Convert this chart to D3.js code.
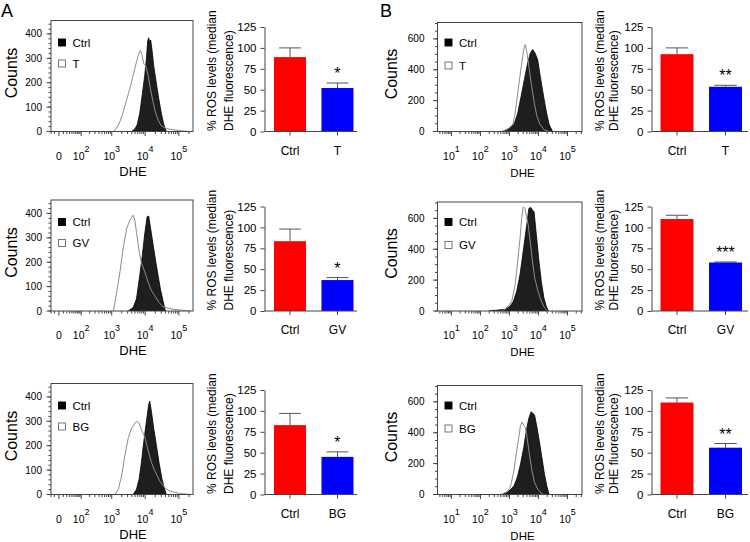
<!DOCTYPE html>
<html><head><meta charset="utf-8">
<script src="https://cdn.jsdelivr.net/npm/d3@7"></script>
<style>body{margin:0;background:#fff}svg{display:block}</style>
</head><body><svg id="c" width="750" height="542"></svg>
<script>
// ---------- DATA ----------
const treatNames = ["T", "GV", "BG"];
const ctrlName = "Ctrl";
// histograms: [log10(DHE), counts]
const histA1Ctrl = [[3.594,0],[3.693,10],[3.762,27],[3.841,75],[3.919,156],[3.988,230],[4.038,298],[4.077,373],[4.106,384],[4.136,366],[4.165,375],[4.205,332],[4.254,271],[4.333,197],[4.411,129],[4.480,75],[4.549,31],[4.628,0]];
const histA1Trt = [[3.052,0],[3.151,14],[3.250,41],[3.348,81],[3.447,129],[3.545,176],[3.643,230],[3.742,285],[3.811,319],[3.860,332],[3.909,312],[3.959,278],[4.018,271],[4.087,230],[4.156,176],[4.234,122],[4.313,75],[4.392,45],[4.480,23],[4.628,12],[4.825,7],[5.071,3],[5.318,0]];
const histA2Ctrl = [[3.496,0],[3.643,14],[3.742,49],[3.841,147],[3.919,232],[3.988,316],[4.057,386],[4.106,389],[4.156,344],[4.234,274],[4.313,204],[4.382,147],[4.451,91],[4.530,42],[4.599,0]];
const histA2Trt = [[3.052,0],[3.151,77],[3.250,161],[3.348,260],[3.447,337],[3.545,372],[3.643,393],[3.693,372],[3.742,323],[3.821,246],[3.890,196],[3.988,161],[4.087,119],[4.185,84],[4.283,63],[4.411,35],[4.530,17],[4.825,7],[5.318,0]];
const histA3Ctrl = [[3.643,0],[3.742,21],[3.821,63],[3.890,132],[3.959,216],[4.038,300],[4.106,369],[4.136,383],[4.185,342],[4.254,272],[4.333,202],[4.411,132],[4.500,63],[4.579,21],[4.628,0]];
const histA3Trt = [[3.102,0],[3.200,21],[3.299,77],[3.397,160],[3.496,230],[3.594,272],[3.742,300],[3.821,293],[3.890,265],[3.988,237],[4.087,181],[4.185,132],[4.283,98],[4.431,56],[4.579,28],[4.727,14],[5.022,4],[5.367,0]];
const histB1Ctrl = [[2.771,0],[3.000,22],[3.171,54],[3.286,119],[3.400,227],[3.514,336],[3.628,444],[3.720,509],[3.800,531],[3.880,509],[3.971,466],[4.062,357],[4.177,227],[4.280,119],[4.371,43],[4.486,0]];
const histB1Trt = [[2.714,0],[2.943,15],[3.114,43],[3.194,119],[3.286,249],[3.377,379],[3.457,487],[3.514,552],[3.548,563],[3.594,520],[3.628,476],[3.685,400],[3.766,292],[3.857,184],[3.948,97],[4.062,43],[4.200,11],[4.371,0]];
const histB2Ctrl = [[2.294,0],[2.857,11],[3.026,32],[3.139,64],[3.251,129],[3.364,236],[3.443,343],[3.533,471],[3.611,579],[3.668,664],[3.735,671],[3.792,654],[3.848,643],[3.927,493],[4.005,343],[4.096,193],[4.186,86],[4.265,32],[4.344,0]];
const histB2Trt = [[2.744,0],[2.913,21],[3.082,64],[3.195,171],[3.285,321],[3.364,471],[3.420,600],[3.476,675],[3.533,664],[3.589,611],[3.645,557],[3.702,471],[3.780,343],[3.870,214],[3.983,129],[4.096,64],[4.208,21],[4.321,0]];
const histB3Ctrl = [[2.756,0],[2.983,22],[3.153,55],[3.266,109],[3.380,196],[3.493,305],[3.572,404],[3.663,491],[3.742,535],[3.799,528],[3.867,513],[3.947,436],[4.026,349],[4.117,240],[4.207,131],[4.287,55],[4.366,0]];
const histB3Trt = [[2.700,0],[2.926,17],[3.040,55],[3.153,153],[3.232,262],[3.323,371],[3.380,447],[3.436,469],[3.493,447],[3.550,436],[3.606,371],[3.686,262],[3.777,153],[3.867,76],[3.981,33],[4.117,4],[4.230,0]];

// bar values (% ROS levels) and SEM
const barACtrl = [89, 83.5, 83];
const barACtrlErr = [11, 14.5, 14];
const barATrt = [52, 37, 45];
const barATrtErr = [6, 3, 6];
const barASig = ["*", "*", "*"];
const barBCtrl = [92.5, 110, 110];
const barBCtrlErr = [7.5, 4.5, 5.5];
const barBTrt = [53.5, 58, 56];
const barBTrtErr = [1.8, 0.6, 5];
const barBSig = ["**", "***", "**"];

// tick values
const histXTicksA = [0, 1e2, 1e3, 1e4, 1e5];
const histXTicksB = [1e1, 1e2, 1e3, 1e4, 1e5];
const histYTicksA = [0, 100, 200, 300, 400];
const histYTicksB = [0, 200, 400, 600];
const barYTicks = [0, 25, 50, 75, 100, 125];

// ---------- LAYOUT ----------
const FONT = "'Liberation Sans', Arial, Helvetica, sans-serif";
const svg = d3.select("#c").style("font-family", FONT);
const rowBase = [131.5, 311, 494.5];

const cols = [
  { letter: "A", letterX: 1, countsX: 16.5,
    hist: { left: 51, right: 193, h: 111, ymax: 455, yTicks: histYTicksA, yMinor: 20, yLabelGap: 9,
            xTicks: histXTicksA, dheDx: 82, dheSize: 13, dheDy: 44, legY: [22, 43],
            makeX: () => d3.scaleSymlog().constant(28).domain([-20, 262144]).range([51, 193]),
            minor: () => { const m = [-20, -10]; d3.range(10, 100, 10).forEach(v => m.push(v));
                           for (let n = 2; n <= 5; n++) for (let k = 2; k <= 9; k++) if (k * 10 ** n <= 262144) m.push(k * 10 ** n); return m; } },
    hists: [[histA1Ctrl, histA1Trt], [histA2Ctrl, histA2Trt], [histA3Ctrl, histA3Trt]],
    bar: { axisX: 264.5, end: 357, pi: 0.326, po: 0.137, align: 0.73, titleX: [215.5, 232.5],
           ctrl: barACtrl, ctrlErr: barACtrlErr, trt: barATrt, trtErr: barATrtErr, sig: barASig } },
  { letter: "B", letterX: 380, countsX: 396.5,
    hist: { left: 437.5, right: 582, h: 109, ymax: 706, yTicks: histYTicksB, yMinor: 50, yLabelGap: 13,
            xTicks: histXTicksB, dheDx: 85, dheSize: 11.5, dheDy: 45, legY: [20, 43],
            makeX: () => d3.scaleLog().domain([10 ** 0.52, 10 ** 5.5]).range([437.5, 582]),
            minor: () => { const m = []; for (let n = 0; n <= 5; n++) for (let k = 2; k <= 9; k++) { const v = k * 10 ** n; if (v >= 10 ** 0.52 && v <= 10 ** 5.5) m.push(v); } return m; } },
    hists: [[histB1Ctrl, histB1Trt], [histB2Ctrl, histB2Trt], [histB3Ctrl, histB3Trt]],
    bar: { axisX: 651.5, end: 748, pi: 0.32, po: 0.155, align: 0.6, titleX: [603.5, 617.5],
           ctrl: barBCtrl, ctrlErr: barBCtrlErr, trt: barBTrt, trtErr: barBTrtErr, sig: barBSig } }
];

const AX = "#444";

cols.forEach(col => {
  svg.append("text").attr("x", col.letterX).attr("y", 17).attr("font-size", 18).attr("fill", "#000").text(col.letter);
  for (let r = 0; r < 3; r++) { drawHist(col, r); drawBar(col, r); }
});

function drawHist(col, r) {
  const H = col.hist, base = rowBase[r], top = base - H.h;
  const x = H.makeX();
  const y = d3.scaleLinear().domain([0, H.ymax]).range([base, top]);
  const g = svg.append("g");
  const cid = "clip" + col.letter + r;
  g.append("clipPath").attr("id", cid).append("rect")
    .attr("x", H.left).attr("y", top).attr("width", H.right - H.left).attr("height", base - top);
  const [ctrl, trt] = col.hists[r];
  const area = d3.area().x(d => x(10 ** d[0])).y0(base).y1(d => y(d[1]));
  const line = d3.line().x(d => x(10 ** d[0])).y(d => y(d[1]));
  g.append("path").datum(ctrl).attr("d", area).attr("fill", "#1e1e1e").attr("stroke", "#000")
    .attr("stroke-width", 0.8).attr("clip-path", `url(#${cid})`);
  g.append("path").datum(trt).attr("d", line).attr("fill", "none").attr("stroke", "#8c8c8c")
    .attr("stroke-width", 1).attr("clip-path", `url(#${cid})`);
  g.append("rect").attr("x", H.left).attr("y", top).attr("width", H.right - H.left).attr("height", base - top)
    .attr("fill", "none").attr("stroke", AX).attr("stroke-width", 1);

  // y ticks
  const yMin = d3.range(0, H.ymax, H.yMinor);
  g.selectAll(".ymin").data(yMin).join("line").attr("x1", H.left - 2.5).attr("x2", H.left)
    .attr("y1", d => y(d)).attr("y2", d => y(d)).attr("stroke", AX);
  g.selectAll(".ymaj").data(H.yTicks).join("line").attr("x1", H.left - 4.5).attr("x2", H.left)
    .attr("y1", d => y(d)).attr("y2", d => y(d)).attr("stroke", AX);
  g.selectAll(".ylab").data(H.yTicks).join("text").attr("x", H.left - H.yLabelGap).attr("y", d => y(d) + 3.5)
    .attr("text-anchor", "end").attr("font-size", 10).attr("fill", "#000").text(d => d);

  // x ticks
  g.selectAll(".xmin").data(H.minor()).join("line").attr("x1", d => x(d)).attr("x2", d => x(d))
    .attr("y1", base).attr("y2", base + 2.5).attr("stroke", AX);
  g.selectAll(".xmaj").data(H.xTicks).join("line").attr("x1", d => x(d)).attr("x2", d => x(d))
    .attr("y1", base).attr("y2", base + 4.5).attr("stroke", AX);
  const lab = g.selectAll(".xlab").data(H.xTicks).join("text").attr("x", d => x(d)).attr("y", base + 28)
    .attr("text-anchor", "middle").attr("font-size", 10.5).attr("fill", "#000");
  lab.each(function (d) {
    const t = d3.select(this);
    if (d === 0) { t.text("0"); return; }
    t.append("tspan").text("10");
    t.append("tspan").attr("dy", -8).attr("font-size", 9).text(Math.round(Math.log10(d)));
  });
  g.append("text").attr("x", H.left + H.dheDx).attr("y", base + H.dheDy).attr("text-anchor", "middle")
    .attr("font-size", H.dheSize).attr("fill", "#000").text("DHE");

  // counts label
  g.append("text").attr("transform", `translate(${col.countsX},${(top + base) / 2 - 3}) rotate(-90)`)
    .attr("text-anchor", "middle").attr("font-size", 16).attr("fill", "#000").text("Counts");

  // legend
  const items = [{ name: ctrlName, fill: "#000" }, { name: treatNames[r], fill: "#fff" }];
  items.forEach((it, i) => {
    const cy = top + H.legY[i];
    g.append("rect").attr("x", H.left + 7.5).attr("y", cy - 3.5).attr("width", 7).attr("height", 7)
      .attr("fill", it.fill).attr("stroke", i ? "#666" : "#000").attr("stroke-width", 0.9);
    g.append("text").attr("x", H.left + 21.5).attr("y", cy + 4).attr("font-size", 11.5).attr("fill", "#000").text(it.name);
  });
}

function drawBar(col, r) {
  const B = col.bar, base = rowBase[r];
  const cats = [ctrlName, treatNames[r]];
  const xb = d3.scaleBand().domain(cats).range([B.axisX, B.end])
    .paddingInner(B.pi).paddingOuter(B.po).align(B.align);
  const y = d3.scaleLinear().domain([0, 125]).range([base, base - 104.5]);
  const g = svg.append("g");
  const rows = [
    { c: cats[0], v: B.ctrl[r], e: B.ctrlErr[r], color: "#ff0000", sig: "" },
    { c: cats[1], v: B.trt[r], e: B.trtErr[r], color: "#0000ff", sig: B.sig[r] }
  ];
  const bw = xb.bandwidth(), cap = bw * 0.68;
  // error bars
  g.selectAll(".err").data(rows).join("path")
    .attr("d", d => { const cx = xb(d.c) + bw / 2; return `M${cx},${y(d.v)}V${y(d.v + d.e)}M${cx - cap / 2},${y(d.v + d.e)}H${cx + cap / 2}`; })
    .attr("stroke", "#555").attr("fill", "none").attr("stroke-width", 1);
  g.selectAll(".bar").data(rows).join("rect")
    .attr("x", d => xb(d.c)).attr("width", bw).attr("y", d => y(d.v)).attr("height", d => base - y(d.v))
    .attr("fill", d => d.color);
  g.selectAll(".sig").data(rows).join("text")
    .attr("x", d => xb(d.c) + bw / 2).attr("y", d => y(d.v + d.e) - 4).attr("text-anchor", "middle")
    .attr("font-size", 16).attr("fill", "#000").text(d => d.sig);

  // y axis
  const ya = g.append("g").attr("transform", `translate(${B.axisX},0)`)
    .call(d3.axisLeft(y).tickValues(barYTicks).tickSize(4).tickSizeOuter(0).tickPadding(4));
  ya.selectAll("path,line").attr("stroke", AX);
  ya.selectAll("text").attr("font-size", 11.5).attr("fill", "#000").attr("font-family", FONT);
  // x axis
  g.append("line").attr("x1", B.axisX).attr("x2", B.end).attr("y1", base).attr("y2", base).attr("stroke", AX);
  g.selectAll(".xt").data(cats).join("line").attr("x1", d => xb(d) + bw / 2).attr("x2", d => xb(d) + bw / 2)
    .attr("y1", base).attr("y2", base + 4).attr("stroke", AX);
  g.selectAll(".xl").data(cats).join("text").attr("x", d => xb(d) + bw / 2).attr("y", base + 23)
    .attr("text-anchor", "middle").attr("font-size", 12).attr("fill", "#000").text(d => d);
  // y title
  const lines = ["% ROS levels (median", "DHE fluorescence)"];
  lines.forEach((t, i) => {
    g.append("text").attr("transform", `translate(${B.titleX[i]},${base - 0.5}) rotate(-90)`)
      .attr("text-anchor", "start").attr("font-size", 12).attr("fill", "#000").text(t);
  });
}
</script></body></html>
